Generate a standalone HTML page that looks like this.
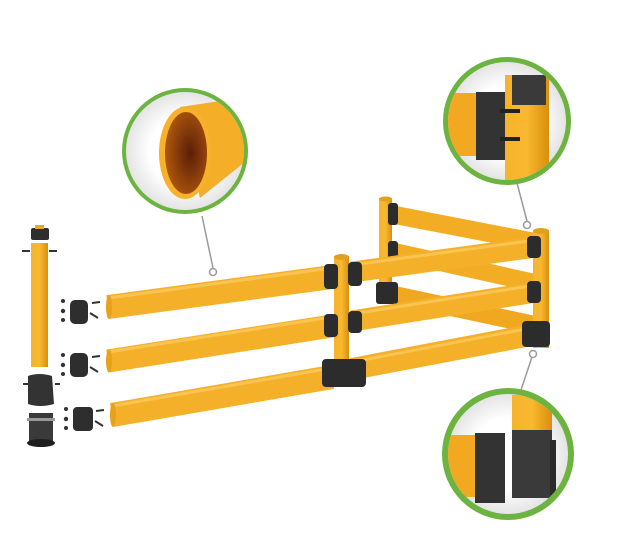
<!DOCTYPE html>
<html><head><meta charset="utf-8"><style>html,body{margin:0;padding:0;background:#fff}svg{display:block}</style></head>
<body>
<svg width="641" height="554" viewBox="0 0 641 554" xmlns="http://www.w3.org/2000/svg">
<defs>
<linearGradient id="ty" x1="0" y1="0" x2="0" y2="1">
<stop offset="0" stop-color="#f7b733"/><stop offset="0.35" stop-color="#f9b62a"/><stop offset="1" stop-color="#e39a10"/></linearGradient>
<linearGradient id="tv" x1="0" y1="0" x2="1" y2="0">
<stop offset="0" stop-color="#f6b42c"/><stop offset="0.5" stop-color="#f8b830"/><stop offset="1" stop-color="#d98f0c"/></linearGradient>
<radialGradient id="bg" cx="0.5" cy="0.5" r="0.5"><stop offset="0.6" stop-color="#ffffff"/><stop offset="1" stop-color="#e4e4e4"/></radialGradient>
<radialGradient id="inner" cx="0.6" cy="0.5" r="0.6"><stop offset="0" stop-color="#5a1e08"/><stop offset="1" stop-color="#b0580c"/></radialGradient>
<clipPath id="c1"><circle cx="185" cy="151" r="59"/></clipPath>
<clipPath id="c2"><circle cx="507" cy="121" r="59"/></clipPath>
<clipPath id="c3"><circle cx="508" cy="454" r="60"/></clipPath>
</defs>

<!-- leader lines -->
<g stroke="#9a9a9a" stroke-width="1.5" fill="none">
<line x1="202" y1="216" x2="213" y2="268"/><circle cx="213" cy="272" r="3.5" fill="#fff"/>
<line x1="517" y1="183" x2="527" y2="221"/><circle cx="527" cy="225" r="3.5" fill="#fff"/>
<line x1="532" y1="357" x2="521" y2="390"/><circle cx="533" cy="354" r="3.5" fill="#fff"/>
</g>

<!-- back post -->
<rect x="379" y="198" width="13" height="100" fill="url(#tv)"/>
<ellipse cx="385.5" cy="199" rx="6.5" ry="2.5" fill="#e0a020"/>
<!-- back rails -->
<g stroke="url(#ty)" stroke-linecap="butt">
<line x1="390" y1="214" x2="535" y2="242" stroke="#f3ad25" stroke-width="18"/>
<line x1="390" y1="251" x2="535" y2="283" stroke="#f3ad25" stroke-width="18"/>
<line x1="390" y1="294" x2="535" y2="325" stroke="#f0a820" stroke-width="18"/>
</g>
<rect x="388" y="203" width="10" height="22" rx="3" fill="#2c2c2c"/>
<rect x="388" y="241" width="10" height="20" rx="3" fill="#2c2c2c"/>
<rect x="376" y="282" width="22" height="22" rx="3" fill="#2c2c2c"/>

<!-- right post -->
<rect x="533" y="230" width="16" height="118" fill="url(#tv)"/>
<ellipse cx="541" cy="231" rx="8" ry="3" fill="#e0a020"/>

<!-- front-right rails -->
<g stroke-linecap="butt">
<line x1="352" y1="272" x2="536" y2="247" stroke="#f5b02a" stroke-width="21"/>
<line x1="352" y1="321" x2="536" y2="292" stroke="#f5b02a" stroke-width="21"/>
<line x1="352" y1="369" x2="536" y2="334" stroke="#f5b02a" stroke-width="22"/>
<line x1="352" y1="265" x2="536" y2="240" stroke="#f9c450" stroke-width="3"/>
<line x1="352" y1="314" x2="536" y2="285" stroke="#f9c450" stroke-width="3"/>
<line x1="352" y1="362" x2="536" y2="327" stroke="#f9c450" stroke-width="3"/>
</g>
<rect x="527" y="236" width="14" height="22" rx="4" fill="#2c2c2c"/>
<rect x="527" y="281" width="14" height="22" rx="4" fill="#2c2c2c"/>
<rect x="522" y="321" width="28" height="26" rx="4" fill="#2c2c2c"/>

<!-- left rails -->
<g stroke-linecap="butt">
<line x1="108" y1="307" x2="332" y2="277" stroke="#f5b02a" stroke-width="24"/>
<line x1="108" y1="361" x2="332" y2="326" stroke="#f5b02a" stroke-width="23"/>
<line x1="112" y1="415" x2="332" y2="377" stroke="#f5b02a" stroke-width="24"/>
<line x1="108" y1="298" x2="332" y2="268" stroke="#f9c450" stroke-width="3"/>
<line x1="108" y1="352" x2="332" y2="317" stroke="#f9c450" stroke-width="3"/>
<line x1="112" y1="406" x2="332" y2="368" stroke="#f9c450" stroke-width="3"/>
</g>
<ellipse cx="109" cy="307" rx="3" ry="12" fill="#e8a21a"/>
<ellipse cx="109" cy="361" rx="3" ry="11.5" fill="#e8a21a"/>
<ellipse cx="113" cy="415" rx="3" ry="12" fill="#e8a21a"/>

<!-- front post -->
<rect x="334" y="256" width="15" height="125" fill="url(#tv)"/>
<ellipse cx="341.5" cy="257" rx="7.5" ry="3" fill="#e0a020"/>
<rect x="324" y="264" width="14" height="25" rx="4" fill="#2c2c2c"/>
<rect x="348" y="262" width="14" height="24" rx="4" fill="#2c2c2c"/>
<rect x="324" y="314" width="14" height="23" rx="4" fill="#2c2c2c"/>
<rect x="348" y="311" width="14" height="22" rx="4" fill="#2c2c2c"/>
<rect x="322" y="359" width="44" height="28" rx="4" fill="#2c2c2c"/>

<!-- left exploded post -->
<rect x="31" y="243" width="17" height="124" fill="url(#tv)"/>
<rect x="31" y="228" width="18" height="12" rx="2" fill="#2e2e2e"/>
<rect x="35" y="225" width="9" height="4" fill="#f0a820"/>
<path d="M28 376 Q39 372 52 376 L54 404 Q40 408 28 404 Z" fill="#333"/>
<rect x="29" y="413" width="24" height="28" fill="#3a3a3a"/>
<rect x="27" y="418" width="28" height="3" fill="#999"/>
<ellipse cx="41" cy="443" rx="14" ry="4" fill="#1e1e1e"/>
<!-- connector clamps -->
<g fill="#2e2e2e">
<rect x="70" y="300" width="18" height="24" rx="5"/>
<rect x="70" y="353" width="18" height="24" rx="5"/>
<rect x="73" y="407" width="20" height="24" rx="4"/>
</g>
<g stroke="#333" stroke-width="2">
<line x1="92" y1="303" x2="100" y2="302"/><line x1="90" y1="313" x2="98" y2="318"/><line x1="92" y1="357" x2="100" y2="356"/><line x1="90" y1="367" x2="98" y2="372"/><line x1="96" y1="411" x2="104" y2="410"/><line x1="95" y1="421" x2="103" y2="426"/>
<line x1="22" y1="251" x2="30" y2="251"/><line x1="49" y1="251" x2="57" y2="251"/><line x1="23" y1="384" x2="29" y2="384"/><line x1="55" y1="384" x2="60" y2="384"/>
</g>
<g fill="#333"><circle cx="63" cy="301" r="2"/><circle cx="63" cy="311" r="2.2"/><circle cx="63" cy="320" r="2"/><circle cx="63" cy="355" r="2"/><circle cx="63" cy="365" r="2.2"/><circle cx="63" cy="374" r="2"/><circle cx="66" cy="409" r="2"/><circle cx="66" cy="419" r="2.2"/><circle cx="66" cy="428" r="2"/></g>

<!-- inset 1 -->
<circle cx="185" cy="151" r="63" fill="#6cb43f"/>
<circle cx="185" cy="151" r="59" fill="url(#bg)"/>
<g clip-path="url(#c1)">
<path d="M180 107 L260 95 L260 150 L200 198 Z" fill="#f5ae27"/>
<ellipse cx="185" cy="153" rx="26" ry="46" fill="#f7b12a"/>
<ellipse cx="186" cy="153" rx="21" ry="41" fill="url(#inner)"/>
</g>

<!-- inset 2 -->
<circle cx="507" cy="121" r="64" fill="#6cb43f"/>
<circle cx="507" cy="121" r="59" fill="url(#bg)"/>
<g clip-path="url(#c2)">
<rect x="440" y="93" width="40" height="63" fill="#f2a820"/>
<rect x="476" y="92" width="30" height="68" fill="#333"/>
<rect x="505" y="75" width="44" height="120" fill="url(#tv)"/>
<rect x="512" y="75" width="34" height="30" fill="#3a3a3a"/>
<rect x="500" y="109" width="20" height="4" fill="#222"/><rect x="500" y="137" width="20" height="4" fill="#222"/>
</g>

<!-- inset 3 -->
<circle cx="508" cy="454" r="66" fill="#6cb43f"/>
<circle cx="508" cy="454" r="60" fill="url(#bg)"/>
<g clip-path="url(#c3)">
<rect x="440" y="435" width="40" height="62" fill="#f2a820"/>
<rect x="475" y="433" width="30" height="70" fill="#333"/>
<rect x="512" y="395" width="40" height="55" fill="url(#tv)"/>
<rect x="512" y="430" width="40" height="68" fill="#3a3a3a"/>
<rect x="550" y="440" width="6" height="55" fill="#2a2a2a"/>
</g>
</svg>
</body></html>
